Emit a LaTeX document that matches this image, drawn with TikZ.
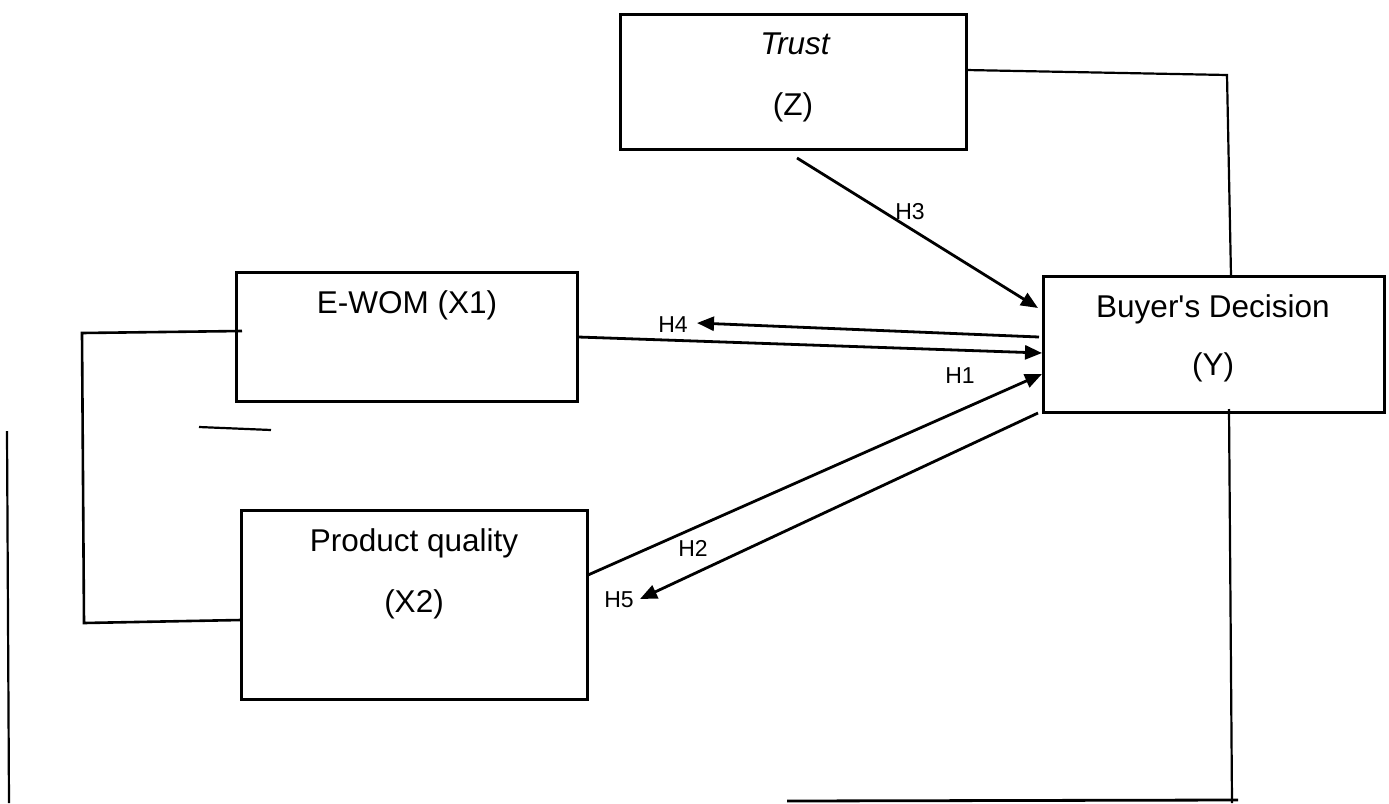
\documentclass[tikz,border=0pt]{standalone}
\usepackage{fontspec}
\setmainfont{Liberation Sans}
\usetikzlibrary{arrows.meta}
\begin{document}
\begin{tikzpicture}[x=1pt,y=-1pt,
  varbox/.style={draw,line width=3pt,inner sep=0pt},
  boxtext/.style={inner sep=0pt,anchor=base,font=\fontsize{31.5}{38}\selectfont},
  hlabel/.style={inner sep=0pt,anchor=base,font=\fontsize{23}{28}\selectfont},
  thinline/.style={line width=2.2pt},
  hyparrow/.style={line width=2.8pt,-{Triangle[length=17pt,width=14pt]}}]
\useasboundingbox (0,0) rectangle (1389,803);
% boxes
\node[varbox,minimum width=346pt,minimum height=135pt] (trust) at (793,81.5) {};
\node[varbox,minimum width=341pt,minimum height=136pt] (buyer) at (1213.5,344) {};
\node[varbox,minimum width=341pt,minimum height=129pt] (ewom) at (406.5,336.5) {};
\node[varbox,minimum width=346pt,minimum height=189pt] (prod) at (414,604.5) {};
% box texts
\node[boxtext] (trustname) at (795,54) {\itshape Trust};
\node[boxtext] (trustvar) at (793,115) {(Z)};
\node[boxtext] (buyername) at (1213,317) {Buyer\textquotesingle s Decision};
\node[boxtext] (buyervar) at (1213,375) {(Y)};
\node[boxtext] (ewomname) at (407,313) {E-WOM (X1)};
\node[boxtext] (prodname) at (414,551) {Product quality};
\node[boxtext] (prodvar) at (414,612) {(X2)};
% coordinates
\coordinate (tR) at (966,70);
\coordinate (tc) at (1227,75);
\coordinate (bT) at (1231,276);
\coordinate (bB) at (1229,409);
\coordinate (bc) at (1232,803);
\coordinate (botL) at (787,801);
\coordinate (botR) at (1238,800);
\coordinate (eL) at (242,331);
\coordinate (kTop) at (82,333);
\coordinate (kBot) at (84,623);
\coordinate (pL) at (241,620);
\coordinate (sA) at (199,427);
\coordinate (sB) at (271,430);
\coordinate (vA) at (7,431);
\coordinate (vB) at (9,803);
\coordinate (h3s) at (797,158);
\coordinate (h3e) at (1038,308);
\coordinate (h4s) at (1039,337);
\coordinate (h4e) at (697,323);
\coordinate (h1s) at (578,337);
\coordinate (h1e) at (1042,353);
\coordinate (h2s) at (588,575);
\coordinate (h2e) at (1042,374);
\coordinate (h5s) at (1038,413);
\coordinate (h5e) at (640,599);
% plain connectors
\draw[thinline] (tR) -- (tc) -- (bT);
\draw[thinline] (bB) -- (bc);
\draw[line width=2.8pt] (botL) -- (botR);
\draw[line width=2.6pt] (eL) -- (kTop) -- (kBot) -- (pL);
\draw[thinline] (sA) -- (sB);
\draw[thinline] (vA) -- (vB);
% hypothesis arrows
\draw[hyparrow] (h3s) -- (h3e);
\draw[hyparrow] (h4s) -- (h4e);
\draw[hyparrow] (h1s) -- (h1e);
\draw[hyparrow] (h2s) -- (h2e);
\draw[hyparrow] (h5s) -- (h5e);
% labels
\node[hlabel] (lh3) at (910,219) {H3};
\node[hlabel] (lh4) at (673,332) {H4};
\node[hlabel] (lh1) at (960,383) {H1};
\node[hlabel] (lh2) at (693,556) {H2};
\node[hlabel] (lh5) at (619,607) {H5};
\end{tikzpicture}
\end{document}
